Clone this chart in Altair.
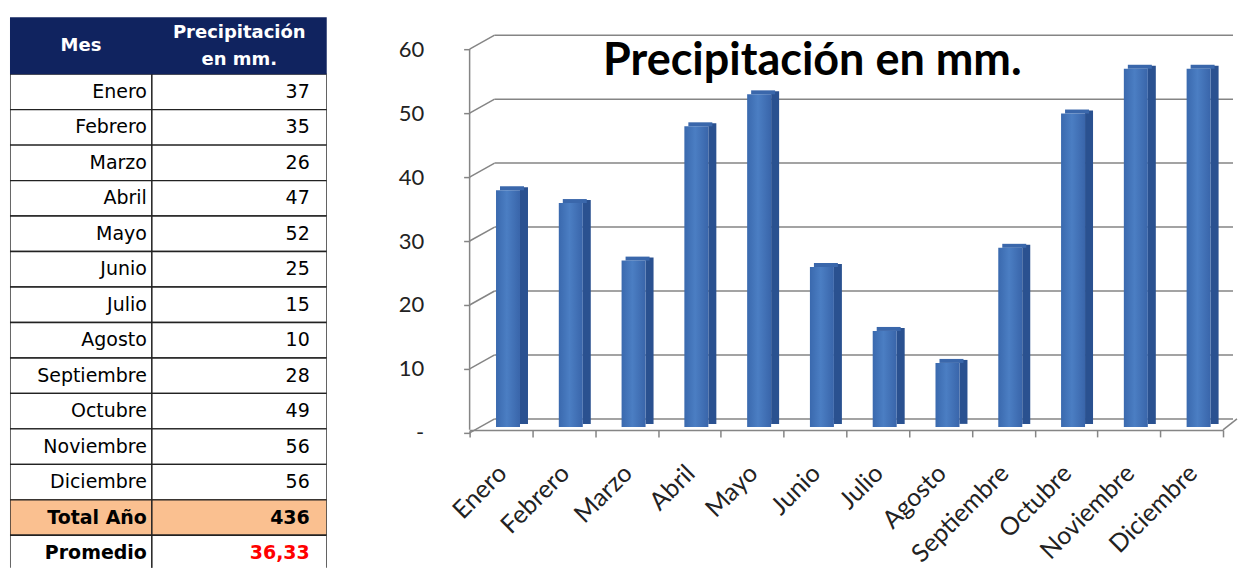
import altair as alt
import pandas as pd

# ---- data -------------------------------------------------------------
MONTHS = ["Enero", "Febrero", "Marzo", "Abril", "Mayo", "Junio", "Julio",
          "Agosto", "Septiembre", "Octubre", "Noviembre", "Diciembre"]
RAIN_MM = [37, 35, 26, 47, 52, 25, 15, 10, 28, 49, 56, 56]
Y_TICKS = [0, 10, 20, 30, 40, 50, 60]

TITLE = "Precipitación en mm."
HEADER_MES = "Mes"
HEADER_VAL = ["Precipitación", "en mm."]
TOTAL_LABEL = "Total Año"
MEAN_LABEL = "Promedio"

total = sum(RAIN_MM)
mean = total / len(RAIN_MM)


def es_num(x, decimals):
    return f"{x:.{decimals}f}".replace(".", ",")


# ---- table ------------------------------------------------------------
TW, C1, TH, HDR, ROW = 317, 142, 551, 57, 35.5
NAVY = "#10235f"
LINE = "#222222"
TFONT = "DejaVu Sans"

rows = pd.DataFrame({
    "label": MONTHS + [TOTAL_LABEL, MEAN_LABEL],
    "valtxt": [str(v) for v in RAIN_MM] + [str(total), es_num(mean, 2)],
    "kind": ["mes"] * len(MONTHS) + ["total", "promedio"],
})
rows["r0"] = range(len(rows))
rows["r1"] = rows["r0"] + 1
rows["rc"] = rows["r0"] + 0.5

ysc_t = alt.Scale(domain=[0, (TH - HDR) / ROW], range=[HDR, TH], nice=False, zero=False)
tbase = alt.Chart(rows)
cell_fill = alt.condition("datum.kind == 'total'", alt.value("#fac090"), alt.value("white"))

cell_a = tbase.mark_rect(stroke=LINE, strokeWidth=1.4, clip=True).encode(
    x=alt.value(0), x2=alt.value(C1),
    y=alt.Y("r0:Q", scale=ysc_t, axis=None, title=None), y2="r1:Q",
    fill=cell_fill)
cell_b = tbase.mark_rect(stroke=LINE, strokeWidth=1.4, clip=True).encode(
    x=alt.value(C1), x2=alt.value(TW),
    y=alt.Y("r0:Q", scale=ysc_t, axis=None, title=None), y2="r1:Q",
    fill=cell_fill)

months_txt = tbase.transform_filter("datum.kind == 'mes'").mark_text(
    font=TFONT, fontSize=19, align="right", baseline="middle", color="black").encode(
    x=alt.value(C1 - 5), y=alt.Y("rc:Q", scale=ysc_t, axis=None, title=None), text="label:N")
vals_txt = tbase.transform_filter("datum.kind == 'mes'").mark_text(
    font=TFONT, fontSize=19, align="right", baseline="middle", color="black").encode(
    x=alt.value(TW - 17), y=alt.Y("rc:Q", scale=ysc_t, axis=None, title=None), text="valtxt:N")
sum_lbl = tbase.transform_filter("datum.kind != 'mes'").mark_text(
    font=TFONT, fontSize=19, fontWeight="bold", align="right", baseline="middle", color="black").encode(
    x=alt.value(C1 - 5), y=alt.Y("rc:Q", scale=ysc_t, axis=None, title=None), text="label:N")
sum_val = tbase.transform_filter("datum.kind != 'mes'").mark_text(
    font=TFONT, fontSize=19, fontWeight="bold", align="right", baseline="middle").encode(
    x=alt.value(TW - 17), y=alt.Y("rc:Q", scale=ysc_t, axis=None, title=None), text="valtxt:N",
    color=alt.condition("datum.kind == 'promedio'", alt.value("#ff0000"), alt.value("black")))

one = pd.DataFrame({"k": [0]})
hdr_rect = alt.Chart(one).mark_rect(fill=NAVY).encode(
    x=alt.value(0), x2=alt.value(TW), y=alt.value(0), y2=alt.value(HDR))
hdr_mes = alt.Chart(one).mark_text(text=HEADER_MES, font=TFONT, fontSize=18, fontWeight="bold",
                                   color="white", baseline="middle").encode(
    x=alt.value(C1 / 2), y=alt.value(29))
hdr_v1 = alt.Chart(one).mark_text(text=HEADER_VAL[0], font=TFONT, fontSize=18, fontWeight="bold",
                                  color="white", baseline="middle").encode(
    x=alt.value((C1 + TW) / 2), y=alt.value(16))
hdr_v2 = alt.Chart(one).mark_text(text=HEADER_VAL[1], font=TFONT, fontSize=18, fontWeight="bold",
                                  color="white", baseline="middle").encode(
    x=alt.value((C1 + TW) / 2), y=alt.value(43))

table = alt.layer(cell_a, cell_b, hdr_rect, hdr_mes, hdr_v1, hdr_v2,
                  months_txt, vals_txt, sum_lbl, sum_val).properties(width=TW, height=TH)

# ---- pseudo-3D column chart --------------------------------------------
PW, PH = 754, 413
DEPTH_X, BACK_DY, FRONT_DY = 25, -8, 6
GRID = "#858585"
AFONT = "Lato"

ysc = alt.Scale(domain=[-0.47, 64.06], nice=False, zero=False)
xsc = alt.Scale(domain=MONTHS, paddingInner=0, paddingOuter=0)

Y_AXIS = alt.Axis(title=None, values=Y_TICKS,
                  labelExpr="datum.value == 0 ? '-' : datum.label",
                  domain=False, grid=False, ticks=True, tickSize=6, tickColor=GRID,
                  tickWidth=1.5, tickOffset=FRONT_DY, labelPadding=40,
                  labelFont=AFONT, labelFontSize=22, labelColor="#222222")
X_AXIS = alt.Axis(title=None, domain=True, domainColor=GRID, domainWidth=1.5,
                  ticks=True, tickBand="extent", tickSize=7, tickColor=GRID, tickWidth=1.5,
                  labelAngle=315, labelAlign="right", labelBaseline="middle",
                  labelPadding=32, labelOffset=1, grid=False,
                  labelFont=AFONT, labelFontSize=25, labelColor="#222222")

grid_df = pd.DataFrame({"v": Y_TICKS})
edge_df = pd.DataFrame({"top": [max(Y_TICKS)], "bot": [min(Y_TICKS)]})
bars_df = pd.DataFrame({"mes": MONTHS, "mm": RAIN_MM})


def Y(field):
    return alt.Y(field, scale=ysc, axis=Y_AXIS, title=None)


def X(field):
    return alt.X(field, scale=xsc, axis=X_AXIS, sort=MONTHS, title=None)


back_grid = alt.Chart(grid_df).mark_rule(color=GRID, strokeWidth=1.5, yOffset=BACK_DY).encode(
    x=alt.value(DEPTH_X), x2=alt.value(PW + 10), y=Y("v:Q"))
side_grid = alt.Chart(grid_df).mark_rule(color=GRID, strokeWidth=1.5,
                                         yOffset=FRONT_DY, y2Offset=BACK_DY).encode(
    x=alt.value(0), x2=alt.value(DEPTH_X), y=Y("v:Q"), y2="v:Q")
front_axis = alt.Chart(edge_df).mark_rule(color=GRID, strokeWidth=1.5,
                                          yOffset=FRONT_DY, y2Offset=3).encode(
    x=alt.value(0), y=Y("top:Q"), y2="bot:Q")
floor_edge = alt.Chart(edge_df).mark_rule(color=GRID, strokeWidth=1.5,
                                          yOffset=3, y2Offset=BACK_DY).encode(
    x=alt.value(PW), x2=alt.value(PW + 14), y=Y("bot:Q"), y2="bot:Q")

front_fill = alt.Gradient(gradient="linear", x1=0, x2=1, y1=0, y2=0, stops=[
    alt.GradientStop(color="#3a69ae", offset=0),
    alt.GradientStop(color="#4b7ec3", offset=0.45),
    alt.GradientStop(color="#3965aa", offset=1)])

bar_side = alt.Chart(bars_df).mark_bar(width=8, xOffset=23, yOffset=-3, y2Offset=-3,
                                       color="#2a5190").encode(
    x=X("mes:N"), y=Y("mm:Q"), y2=alt.datum(0))
bar_top = alt.Chart(bars_df).mark_bar(width=24, xOffset=11, yOffset=-4, y2Offset=0,
                                      color="#3a67ab").encode(
    x=X("mes:N"), y=Y("mm:Q"), y2="mm:Q")
bar_front = alt.Chart(bars_df).mark_bar(width=24, xOffset=7, color=front_fill).encode(
    x=X("mes:N"), y=Y("mm:Q"), y2=alt.datum(0))

title = alt.Chart(one).mark_text(text=TITLE, font=AFONT, fontSize=45, fontWeight="bold",
                                 color="black", baseline="middle").encode(
    x=alt.value(343), y=alt.value(44))

bars = alt.layer(back_grid, side_grid, front_axis, floor_edge,
                 bar_side, bar_top, bar_front, title).properties(width=PW, height=PH)

chart = alt.hconcat(table, bars, spacing=71).properties(
    padding={"left": 10, "top": 17, "right": 0, "bottom": 0},
    background="white",
).configure_view(stroke=None)

chart.save("out.html", embed_options={"renderer": "svg", "actions": False})
